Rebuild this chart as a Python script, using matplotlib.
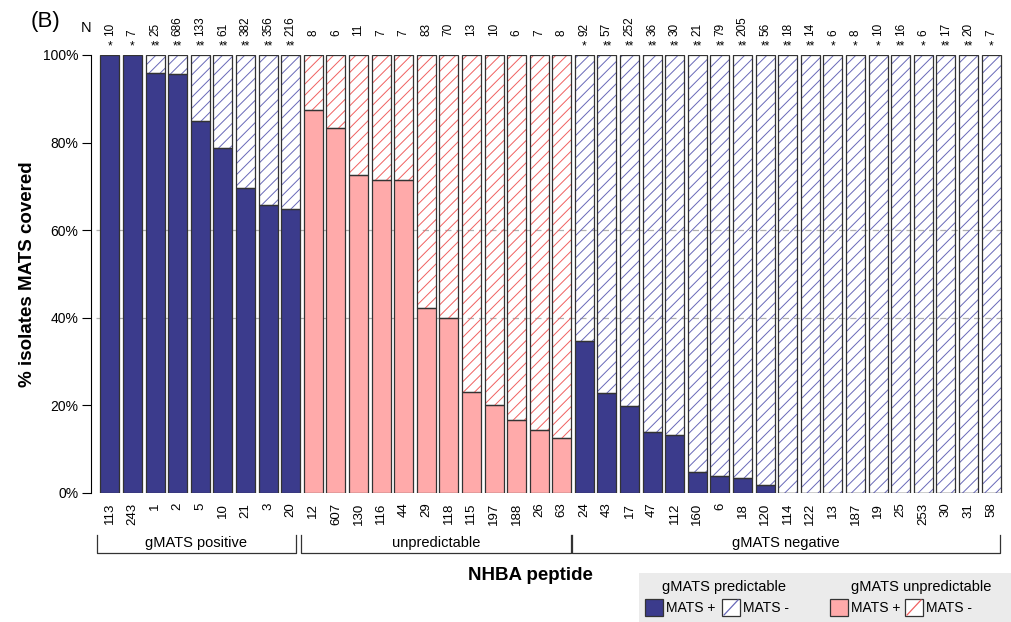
import matplotlib
matplotlib.use("Agg")
import matplotlib.pyplot as plt
import matplotlib.transforms as mtransforms
from matplotlib.patches import Rectangle
import numpy as np

plt.rcParams['font.family'] = ['Liberation Sans', 'DejaVu Sans']
plt.rcParams['hatch.linewidth'] = 0.7

# NHBA peptides, in plotted order
peptides = ['113', '243', '1', '2', '5', '10', '21', '3', '20',
            '12', '607', '130', '116', '44', '29', '118', '115', '197', '188', '26', '63',
            '24', '43', '17', '47', '112', '160', '6', '18', '120', '114', '122', '13',
            '187', '19', '25', '253', '30', '31', '58']
# number of isolates per peptide
n_isolates = [10, 7, 25, 686, 133, 61, 382, 356, 216,
              8, 6, 11, 7, 7, 83, 70, 13, 10, 6, 7, 8,
              92, 57, 252, 36, 30, 21, 79, 205, 56, 18, 14, 6, 8, 10, 16, 6, 17, 20, 7]
stars = ['*', '*', '**', '**', '**', '**', '**', '**', '**',
         '', '', '', '', '', '', '', '', '', '', '', '',
         '*', '**', '**', '**', '**', '**', '**', '**', '**', '**', '**', '*',
         '*', '*', '**', '*', '**', '**', '*']
# fraction of isolates MATS covered
mats_pos = [1.0, 1.0, 0.96, 0.956, 0.85, 0.787, 0.696, 0.657, 0.648,
            0.875, 0.833, 0.727, 0.714, 0.714, 0.422, 0.40, 0.231, 0.20, 0.167, 0.143, 0.125,
            0.348, 0.228, 0.198, 0.139, 0.133, 0.048, 0.038, 0.034, 0.018, 0, 0, 0,
            0, 0, 0, 0, 0, 0, 0]
# gMATS group of each bar: 0 positive, 1 unpredictable, 2 negative
group = [0] * 9 + [1] * 12 + [2] * 19
group_names = ['gMATS positive', 'unpredictable', 'gMATS negative']
group_spans = [(-0.58, 8.23), (8.45, 20.4), (20.45, 39.4)]

navy = '#3b3b8c'
pink = '#ffaaaa'
navy_hatch = '#6868b8'
red_hatch = '#f06060'
edge = '#333333'

W, H = 1011, 622
fig = plt.figure(figsize=(W / 100, H / 100), dpi=100)
x0 = 96.4
ax = fig.add_axes([x0 / W, 129 / H, 908.2 / W, 438 / H])

x = np.arange(len(peptides))
pos = np.array(mats_pos)
fills = [navy if g != 1 else pink for g in group]
hcols = [navy_hatch if g != 1 else red_hatch for g in group]

for yv in (0.4, 0.6):
    ax.axhline(yv, color='#b0b0b0', lw=0.9, ls=(0, (5, 4)), zorder=0)

ax.bar(x, pos, width=0.84, color=fills, edgecolor=edge, linewidth=0.9, zorder=2)
for i in x:
    if pos[i] < 1:
        ax.bar(i, 1 - pos[i], bottom=pos[i], width=0.84, color='none',
               edgecolor=hcols[i], hatch='///', linewidth=0, zorder=2)
        ax.bar(i, 1 - pos[i], bottom=pos[i], width=0.84, fill=False,
               edgecolor=edge, linewidth=0.9, zorder=3)

ax.set_xlim(-0.6, 39.6)
ax.set_ylim(0, 1)
ax.set_yticks(np.linspace(0, 1, 6), ['0%', '20%', '40%', '60%', '80%', '100%'], fontsize=10.5)
ax.set_xticks(x, peptides, rotation=90, fontsize=9.5)
ax.tick_params(axis='x', length=0, pad=7)
ax.tick_params(axis='y', length=6.5, width=0.8, pad=2.5)
for s in ('top', 'right', 'bottom'):
    ax.spines[s].set_visible(False)
ax.spines['left'].set_position(('outward', 4.1))
ax.spines['left'].set_bounds(0, 1)
ax.spines['left'].set_linewidth(0.8)
ax.set_ylabel('% isolates MATS covered', fontsize=13.5, fontweight='bold', labelpad=5)

# N counts and significance stars above bars
trans = mtransforms.blended_transform_factory(ax.transData, fig.transFigure)
for i in x:
    ax.text(i, 1 - 36 / H, str(n_isolates[i]), rotation=90, ha='center', va='bottom',
            fontsize=8.5, transform=trans, clip_on=False)
    if stars[i]:
        ax.text(i, 1 - 46 / H, stars[i], ha='center', va='center', fontsize=8.5,
                transform=trans, clip_on=False)
fig.text(86 / W, 1 - 28 / H, 'N', ha='center', va='center', fontsize=10.5)
fig.text(31 / W, 1 - 21 / H, '(B)', ha='left', va='center', fontsize=16)

# group brackets
for name, (a, b) in zip(group_names, group_spans):
    ax.plot([a, a, b, b], [1 - 535 / H, 1 - 553 / H, 1 - 553 / H, 1 - 535 / H],
            color='#333333', lw=0.9, transform=trans, clip_on=False)
    ax.text((a + b) / 2, 1 - 543 / H, name, ha='center', va='center', fontsize=10.5,
            transform=trans, clip_on=False)
fig.text(530 / W, 1 - 576 / H, 'NHBA peptide', ha='center', va='center',
         fontsize=13.5, fontweight='bold')

# legend drawn in pixel coordinates
lax = fig.add_axes([639 / W, 0, (W - 639) / W, 49 / H])
lax.set_xlim(639, W)
lax.set_ylim(H, 573)
lax.set_facecolor('#ebebeb')
for s in lax.spines.values():
    s.set_visible(False)
lax.set_xticks([])
lax.set_yticks([])
entries = [(645, navy, None, 'MATS +'), (722, None, navy_hatch, 'MATS -'),
           (830, pink, None, 'MATS +'), (905, None, red_hatch, 'MATS -')]
for xl, fc, hc, lab in entries:
    if fc:
        lax.add_patch(Rectangle((xl, 599), 18, 17, facecolor=fc, edgecolor=edge, lw=0.9))
    else:
        lax.add_patch(Rectangle((xl, 599), 18, 17, facecolor='white', edgecolor=edge, lw=0.9))
        lax.plot([xl + 2, xl + 16], [615, 600], color=hc, lw=0.9)
    lax.text(xl + 21, 608, lab, ha='left', va='center', fontsize=10)
lax.text(724, 587, 'gMATS predictable', ha='center', va='center', fontsize=10.5)
lax.text(921, 587, 'gMATS unpredictable', ha='center', va='center', fontsize=10.5)

fig.savefig('out.png', dpi=100)
